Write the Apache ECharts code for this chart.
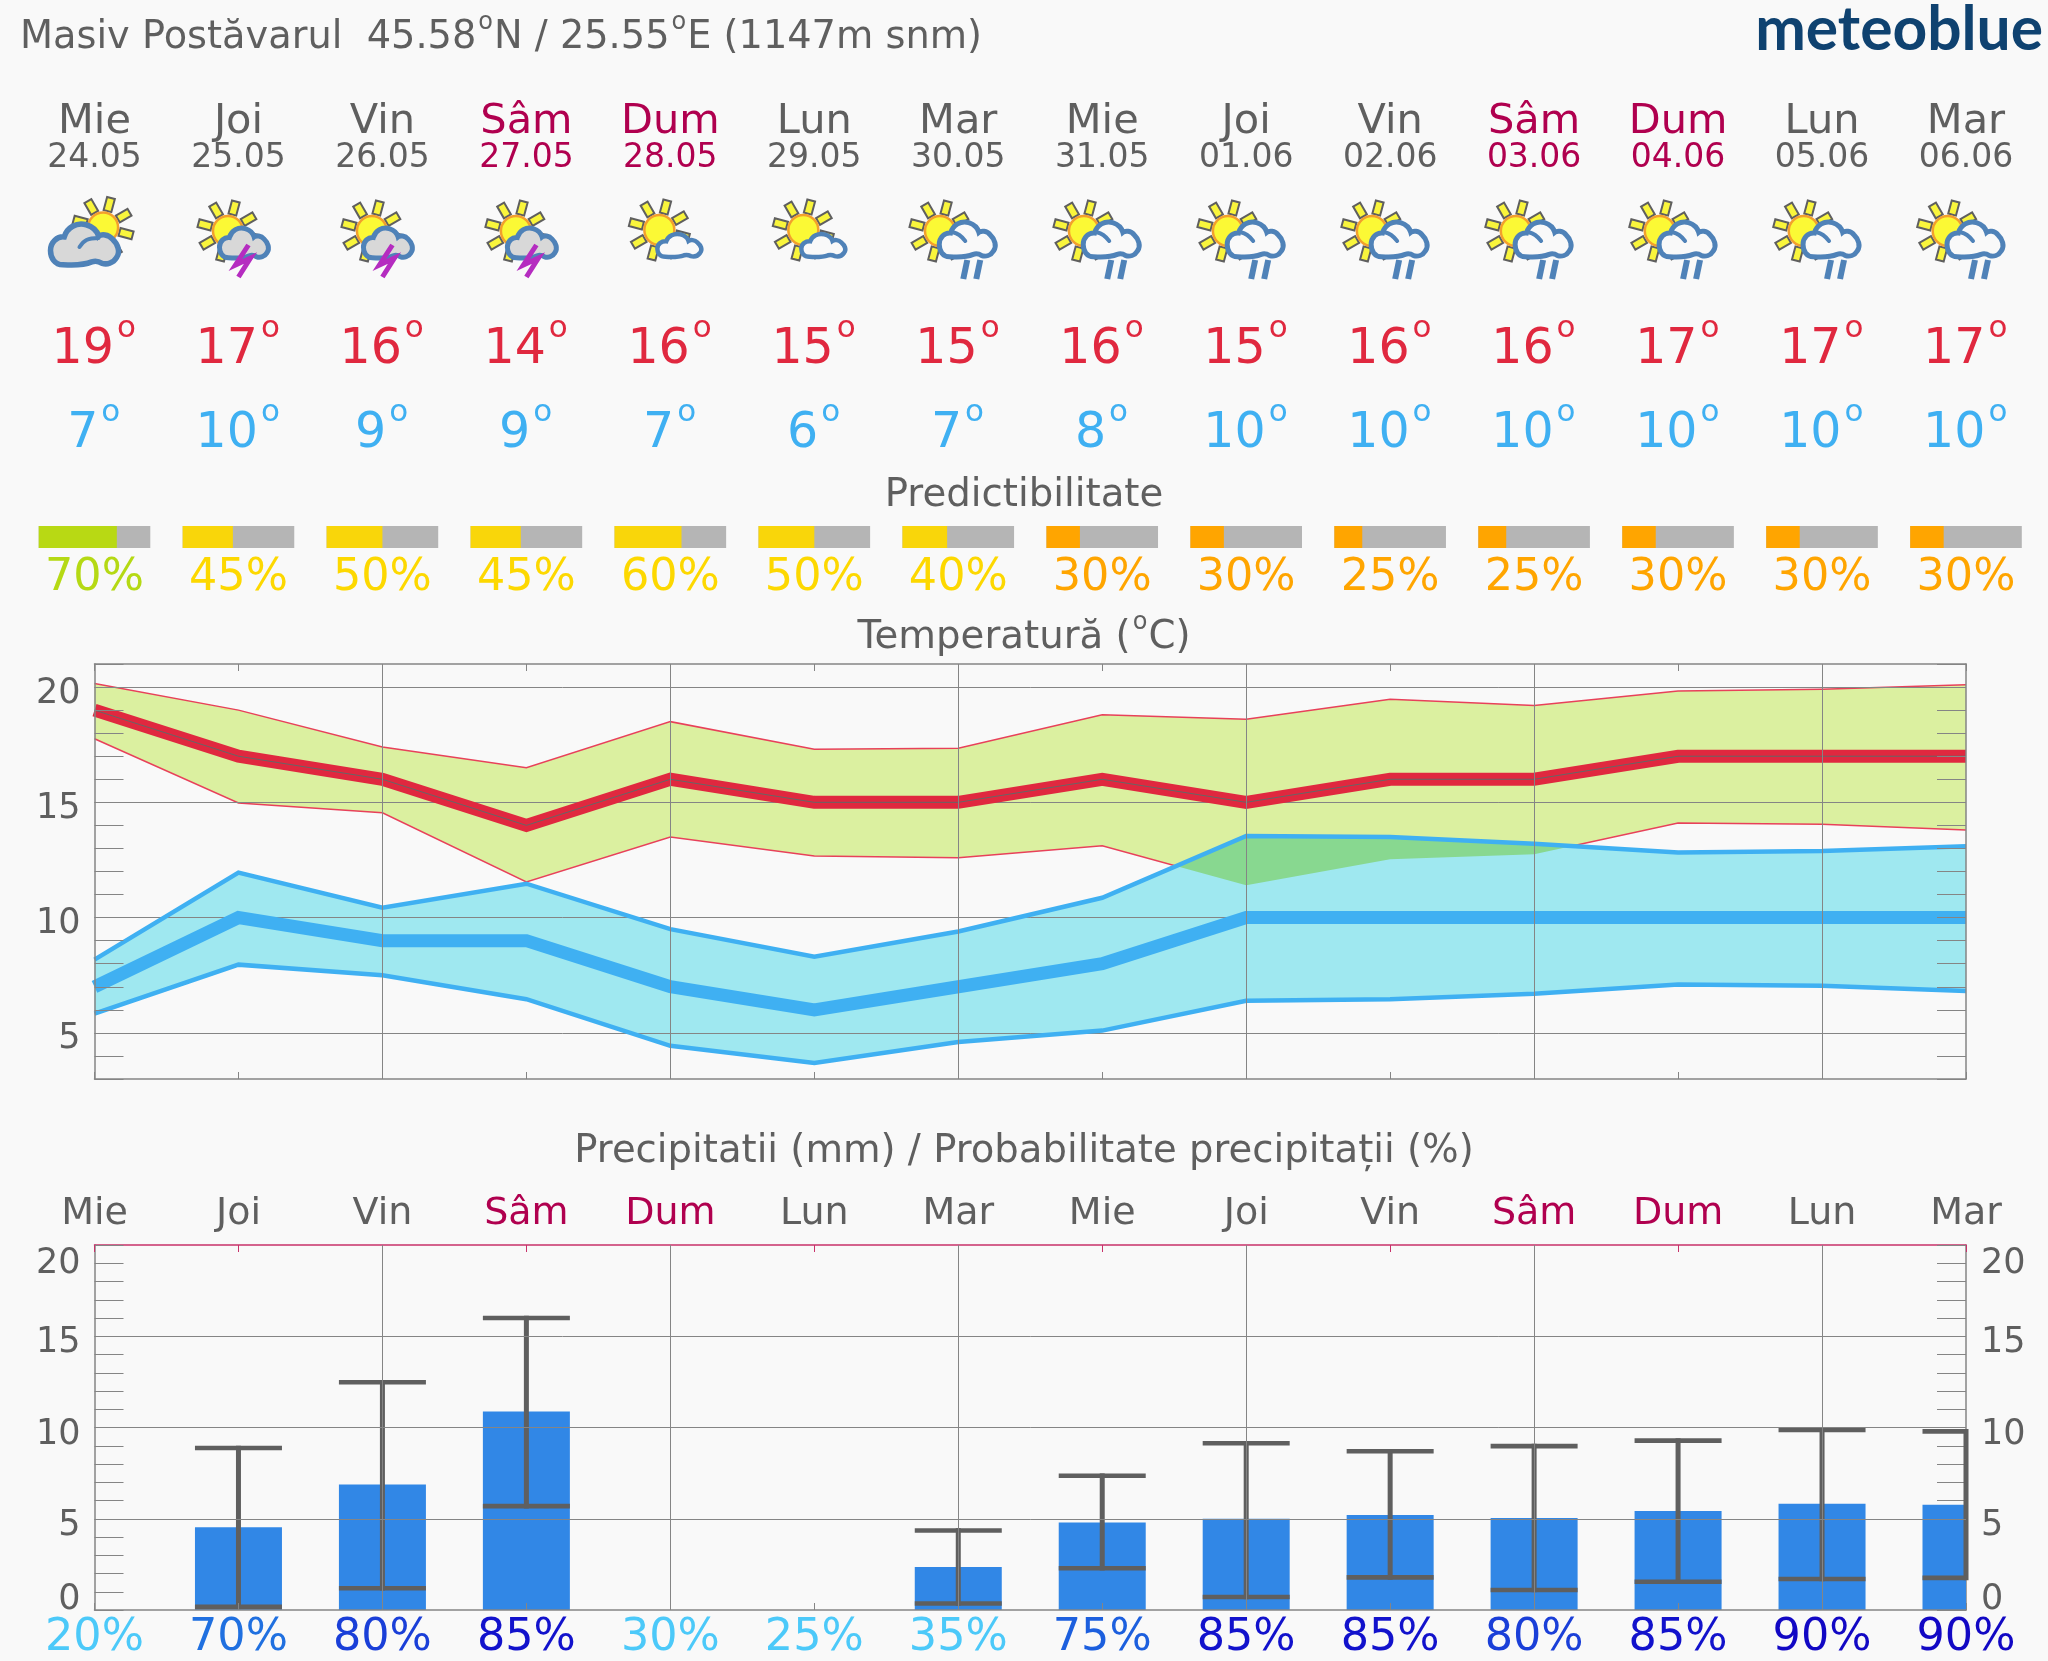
<!DOCTYPE html>
<html><head><meta charset="utf-8">
<style>html,body{margin:0;padding:0;background:#f9f9f9}#c{width:2048px;height:1661px}</style>
<script src="https://cdn.jsdelivr.net/npm/echarts@6/dist/echarts.min.js"></script>
</head><body><div id="c"></div>
<script>
const days=['Mie','Joi','Vin','Sâm','Dum','Lun','Mar','Mie','Joi','Vin','Sâm','Dum','Lun','Mar'];
const dates=['24.05','25.05','26.05','27.05','28.05','29.05','30.05','31.05','01.06','02.06','03.06','04.06','05.06','06.06'];
const iconKinds=['cloudy','storm','storm','storm','fair','fair','rain','rain','rain','rain','rain','rain','rain','rain'];
const tempHigh=[19,17,16,14,16,15,15,16,15,16,16,17,17,17];
const tempLow=[7,10,9,9,7,6,7,8,10,10,10,10,10,10];
const predictability=[70,45,50,45,60,50,40,30,30,25,25,30,30,30];
const highUpper=[20.15,19.0,17.4,16.5,18.5,17.3,17.35,18.8,18.6,19.47,19.2,19.83,19.9,20.1];
const highLower=[17.76,14.97,14.55,11.55,13.5,12.67,12.6,13.12,11.4,12.53,12.75,14.1,14.05,13.8];
const lowUpper=[8.18,11.95,10.43,11.47,9.5,8.3,9.4,10.86,13.54,13.5,13.2,12.82,12.89,13.1];
const lowLower=[5.84,7.96,7.5,6.46,4.44,3.7,4.6,5.1,6.39,6.46,6.7,7.1,7.04,6.82];
const precip=[0,4.54,6.88,10.87,0,0,2.36,4.79,5.0,5.2,5.04,5.43,5.82,5.77];
const precipMin=[null,0.17,1.19,5.69,null,null,0.36,2.29,0.71,1.79,1.1,1.55,1.7,1.76];
const precipMax=[null,8.88,12.48,16.0,null,null,4.36,7.36,9.14,8.7,8.98,9.28,9.87,9.79];
const precipProb=[20,70,80,85,30,25,35,75,85,85,80,85,90,90];
const tempGridValues=[5,10,15,20];
const precipGridValues=[5,10,15];

const GREY='#5f5f5f',WEEKEND='#b0004f',HOT='#e0283f',COLD='#3fb0f2',BG='#f9f9f9',LINE='#858585',FF='"DejaVu Sans"';
const L=94.5,W=1871.5;
const dayColor=d=>(d==='Sâm'||d==='Dum')?WEEKEND:GREY;
const predColor=p=>p>=70?'#b8d914':p>=40?'#f9d60a':'#ffa500';
const predText=p=>p>=70?'#b5d914':p>=40?'#fdd800':'#ffa500';
const probColor=p=>p<=35?'#4cc9f9':p<=70?'#2070e0':p<=75?'#1c5fde':p<=80?'#1a3fd8':p<=85?'#1212cc':'#1208c4';
const mctx=document.createElement('canvas').getContext('2d');
const tw=(t,fs)=>{mctx.font=fs+'px '+FF;return mctx.measureText(t).width};

// text with small raised "o" degree marks
function degText(parts,x,y,fs,fill,supFs,supDy,gap){
  const out=[];let cx=x;
  parts.forEach(p=>{
    if(p==='°'){
      out.push({type:'text',style:{text:'o',x:cx+gap,y:y+supDy,fill,font:supFs+'px '+FF,align:'left',verticalAlign:'middle'},silent:true});
      cx+=tw('o',supFs)+gap*1.5;
    }else{
      out.push({type:'text',style:{text:p,x:cx,y,fill,font:fs+'px '+FF,align:'left',verticalAlign:'middle'},silent:true});
      cx+=tw(p,fs);
    }
  });
  return out;
}
function degWidth(parts,fs,supFs,gap){return parts.reduce((a,p)=>a+(p==='°'?tw('o',supFs)+gap*1.5:tw(p,fs)),0)}

const CLOUD='M18 60C6 60 0 50 0 40C0 28 10 20 20 21C24 8 38 0 52 4C62 7 68 13 70 20C74 17 84 17 90 24C98 31 102 42 96 50C91 58 82 60 75 58C70 55 66 54 60 56C45 62 30 60 18 60Z';
function sun(cx,cy){
  const els=[];
  for(let k=0;k<8;k++){
    const a=(15+45*k)*Math.PI/180,s=Math.sin(a),c=-Math.cos(a);
    const r1=17,r2=30.5,h=4;
    els.push({type:'polygon',shape:{points:[[cx+s*r1-c*h,cy+c*r1+s*h],[cx+s*r2-c*h,cy+c*r2+s*h],[cx+s*r2+c*h,cy+c*r2-s*h],[cx+s*r1+c*h,cy+c*r1-s*h]]},style:{fill:'#f9f53c',stroke:'#5f5f5f',lineWidth:2},silent:true});
  }
  els.push({type:'circle',shape:{cx,cy,r:15},style:{fill:'#fbf935',stroke:'#f3a02c',lineWidth:2.5},silent:true});
  return els;
}
function cloud(x,y,w,h,fill,lw){
  return {type:'path',shape:{pathData:CLOUD,x,y,width:w,height:h,layout:'cover'},style:{fill,stroke:'#4f82b8',lineWidth:lw},silent:true};
}
function hook(pts,lw){return {type:'polyline',shape:{points:pts,smooth:0.4},style:{stroke:'#4f82b8',lineWidth:lw,fill:null,lineCap:'round'},silent:true}}
function icon(kind,x){
  if(kind==='cloudy')return [...sun(x+8.6,227.5),cloud(x-44,224,68,41,'#d8d8d8',5.5),hook([[x-15,247],[x-8,240],[x+4,238]],4)];
  if(kind==='storm')return [...sun(x-10.5,231),cloud(x-19,228,49,30,'#d8d8d8',5),
    {type:'polyline',shape:{points:[[x+10,245],[x-3,265],[x+12,258],[x+0,277]]},style:{stroke:'#b52cc0',lineWidth:5,fill:null},silent:true}];
  if(kind==='fair')return [...sun(x-11,230),cloud(x-13,234,44,23,BG,4.5)];
  return [...sun(x-18.3,231),cloud(x-19,222,56,35,BG,5),hook([[x-6,232],[x+1,235],[x+7,241]],4),
    {type:'line',shape:{x1:x+9,y1:260,x2:x+5,y2:279},style:{stroke:'#4f82b8',lineWidth:6},silent:true},
    {type:'line',shape:{x1:x+22,y1:260,x2:x+18,y2:279},style:{stroke:'#4f82b8',lineWidth:6},silent:true}];
}
function centerText(t,x,y,fs,fill){return {type:'text',style:{text:t,x,y,fill,font:fs+'px '+FF,align:'center',verticalAlign:'middle'},silent:true}}
function tempLabel(v,x,y,fill){
  const parts=[String(v),'°'],w=degWidth(parts,49,31,3);
  return degText(parts,x-w/2,y,49,fill,31,-21,3);
}
function renderHeader(params,api){
  const i=params.dataIndex,x=api.coord([i,0])[0],c=dayColor(days[i]);
  const bw=111.6,p=predictability[i];
  return {type:'group',children:[
    centerText(days[i],x,122,41.5,c),
    centerText(dates[i],x,158,33,c),
    ...icon(iconKinds[i],x),
    ...tempLabel(tempHigh[i],x,350,HOT),
    ...tempLabel(tempLow[i],x,434,COLD),
    {type:'rect',shape:{x:x-bw/2,y:526,width:bw,height:22},style:{fill:'#b5b5b5'},silent:true},
    {type:'rect',shape:{x:x-bw/2,y:526,width:bw*p/100,height:22},style:{fill:predColor(p)},silent:true},
    centerText(p+'%',x,578,44.5,predText(p))
  ]};
}
function polyPts(api,up,lo){
  return [...up.map((v,i)=>api.coord([i,v])),...lo.map((v,i)=>api.coord([i,v])).reverse()];
}
function band(up,lo,fill,z,clip){
  return {type:'custom',coordinateSystem:'cartesian2d',xAxisIndex:1,yAxisIndex:1,z,silent:true,
    data:days.map((d,i)=>[i,up[i]]),encode:{x:0,y:1},
    renderItem(params,api){
      if(params.dataIndex!==0)return null;
      const el={type:'polygon',shape:{points:polyPts(api,up,lo)},style:{fill},silent:true};
      if(clip)el.clipPath={type:'polygon',shape:{points:polyPts(api,clip[0],clip[1])}};
      return el;
    }};
}
function line(data,color,width,z,clip){
  return {type:'line',xAxisIndex:1,yAxisIndex:1,data,z,symbol:'none',silent:true,clip:!!clip,
    lineStyle:{color,width,cap:'butt',join:'miter'},itemStyle:{color}};
}
const errData=[];
precipMin.forEach((v,i)=>{if(v!==null)errData.push([i,v,precipMax[i]])});
function renderErr(params,api){
  const i=api.value(0),lo=api.coord([i,api.value(1)]),hi=api.coord([i,api.value(2)]);
  const cs=params.coordSys,r=cs.x+cs.width,half=43.5;
  const st={stroke:GREY,lineWidth:4.6};
  return {type:'group',children:[
    {type:'line',shape:{x1:lo[0],y1:lo[1]+2.3,x2:lo[0],y2:hi[1]-2.3},style:{stroke:GREY,lineWidth:5},silent:true},
    {type:'line',shape:{x1:lo[0]-half,y1:lo[1],x2:Math.min(lo[0]+half,r),y2:lo[1]},style:st,silent:true},
    {type:'line',shape:{x1:lo[0]-half,y1:hi[1],x2:Math.min(lo[0]+half,r),y2:hi[1]},style:st,silent:true}
  ]};
}
function renderBar(params,api){
  const v=api.value(1);
  if(!v)return null;
  const i=api.value(0),base=api.coord([i,0]),top=api.coord([i,v]),half=43.5;
  const cs=params.coordSys,r=cs.x+cs.width;
  return {type:'rect',shape:{x:base[0]-half,y:top[1],width:Math.min(base[0]+half,r)-(base[0]-half),height:base[1]-top[1]},style:{fill:'#3187e6'},silent:true};
}
const titleParts=['Masiv Postăvarul  45.58','°','N / 25.55','°','E (1147m snm)'];
const tempTitle=['Temperatură (','°','C)'];
const tempTitleW=degWidth(tempTitle,38.7,24,2);
const tickOpts={show:true,inside:true,length:29,lineStyle:{color:LINE,width:1}};
function xTop(gridIndex,color,extra){
  return Object.assign({type:'category',gridIndex,data:days,position:'top',boundaryGap:false,
    axisLine:{show:true,onZero:false,lineStyle:{color,width:1.5}},
    axisTick:{show:true,inside:true,length:7,alignWithLabel:true,interval:0,lineStyle:{color}},
    axisLabel:{show:false},splitLine:{show:false}},extra||{});
}
function xBottom(gridIndex,extra){
  return Object.assign({type:'category',gridIndex,data:days,position:'bottom',boundaryGap:false,
    axisLine:{show:true,onZero:false,lineStyle:{color:LINE,width:1.5}},
    axisTick:{show:true,inside:true,length:7,interval:0,lineStyle:{color:LINE}},
    axisLabel:{show:false},
    splitLine:{show:true,interval:i=>i%2===0&&i>0,lineStyle:{color:LINE,width:1}}},extra||{});
}
const sideLabel={fontFamily:FF,fontSize:35,color:GREY};
const precipLabels={margin:14,formatter:v=>v===20?'{t|20}':v===0?'{b|0}':v%5===0?'{s|'+v+'}':'',
  rich:{s:Object.assign({padding:[14,0,0,0]},sideLabel),t:Object.assign({padding:[38,0,0,0]},sideLabel),b:Object.assign({padding:[0,0,20,0]},sideLabel)}};
const chart=echarts.init(document.getElementById('c'),null,{renderer:'canvas'});
chart.setOption({
  animation:false,backgroundColor:BG,
  grid:[
    {left:L,width:W,top:0,height:640,containLabel:false},
    {left:L,width:W,top:664,height:415},
    {left:L,width:W,top:1245,height:366}
  ],
  xAxis:[
    {type:'category',gridIndex:0,data:days,boundaryGap:false,show:false},
    xBottom(1,{z:10}),
    xTop(1,LINE,{z:10}),
    xBottom(2,{data:precipProb.map(p=>p+'%'),z:5,axisLabel:{show:true,interval:0,margin:6,fontFamily:FF,fontSize:44.5,
      color:(v,i)=>probColor(precipProb[i])}}),
    xTop(2,'#c8326a',{axisLabel:{show:true,interval:0,margin:12,fontFamily:FF,fontSize:38,color:(v,i)=>dayColor(days[i])}})
  ],
  yAxis:[
    {type:'value',gridIndex:0,min:0,max:1,show:false},
    {type:'value',gridIndex:1,min:3,max:21,interval:1,position:'left',z:10,
      axisLine:{show:true,onZero:false,lineStyle:{color:LINE,width:1.5}},axisTick:tickOpts,splitLine:{show:false},
      axisLabel:Object.assign({margin:14,interval:0,formatter:v=>v%5===0?'{s|'+v+'}':'',rich:{s:Object.assign({padding:[13,0,0,0]},sideLabel)}},sideLabel)},
    {type:'value',gridIndex:1,min:3,max:21,interval:1,position:'right',z:10,
      axisLine:{show:true,onZero:false,lineStyle:{color:LINE,width:1.5}},axisTick:tickOpts,splitLine:{show:false},axisLabel:{show:false}},
    {type:'value',gridIndex:2,min:0,max:20,interval:1,position:'left',
      axisLine:{show:true,onZero:false,lineStyle:{color:LINE,width:1.5}},axisTick:tickOpts,splitLine:{show:false},
      axisLabel:Object.assign({},precipLabels,sideLabel)},
    {type:'value',gridIndex:2,min:0,max:20,interval:1,position:'right',
      axisLine:{show:true,onZero:false,lineStyle:{color:LINE,width:1.5}},axisTick:tickOpts,splitLine:{show:false},
      axisLabel:Object.assign({},precipLabels,sideLabel,{margin:15})}
  ],
  series:[
    {type:'custom',coordinateSystem:'cartesian2d',xAxisIndex:0,yAxisIndex:0,silent:true,z:2,
      data:days.map((d,i)=>[i,0]),encode:{x:0,y:1},renderItem:renderHeader},
    band(highUpper,highLower,'#dbf0a0',2),
    line(highUpper,'#e8415a',1.5,3),
    line(highLower,'#e8415a',1.5,3),
    band(lowUpper,lowLower,'#9fe8f0',4),
    band(highUpper,highLower,'#88d890',5,[lowUpper,lowLower]),
    line(lowUpper,COLD,4.5,6),
    line(lowLower,COLD,4.5,6),
    line(tempLow,COLD,13,7),
    line(tempHigh,HOT,13,7),
    line(tempHigh,'#666666',1,8),
    {type:'line',xAxisIndex:1,yAxisIndex:1,data:[],z:10,silent:true,
      markLine:{silent:true,symbol:'none',animation:false,label:{show:false},lineStyle:{color:LINE,width:1,type:'solid'},
        data:tempGridValues.map(v=>({yAxis:v}))}},
    {type:'line',xAxisIndex:3,yAxisIndex:3,data:[],z:1,silent:true,
      markLine:{silent:true,symbol:'none',animation:false,label:{show:false},lineStyle:{color:LINE,width:1,type:'solid'},
        data:precipGridValues.map(v=>({yAxis:v}))}},
    {type:'custom',coordinateSystem:'cartesian2d',xAxisIndex:3,yAxisIndex:3,z:3,silent:true,
      data:precip.map((v,i)=>[i,v]),encode:{x:0,y:1},renderItem:renderBar},
    {type:'custom',coordinateSystem:'cartesian2d',xAxisIndex:3,yAxisIndex:3,z:4,silent:true,
      data:errData,encode:{x:0,y:[1,2]},renderItem:renderErr}
  ],
  graphic:{elements:[
    ...degText(titleParts,20,38,38.3,GREY,24,-15,2),
    {type:'text',style:{text:'Predictibilitate',x:1024,y:496,fill:GREY,font:'38.7px '+FF,align:'center',verticalAlign:'middle'},silent:true},
    ...degText(tempTitle,1024-tempTitleW/2,638,38.7,GREY,24,-15,2),
    {type:'text',style:{text:'Precipitatii (mm) / Probabilitate precipitații (%)',x:1024,y:1152,fill:GREY,font:'38.6px '+FF,align:'center',verticalAlign:'middle'},silent:true},
    {type:'text',style:{text:'meteoblue',x:2043,y:30,fill:'#0f4270',font:'700 60.5px Lato',align:'right',verticalAlign:'middle'},silent:true}
  ]}
});
</script></body></html>
